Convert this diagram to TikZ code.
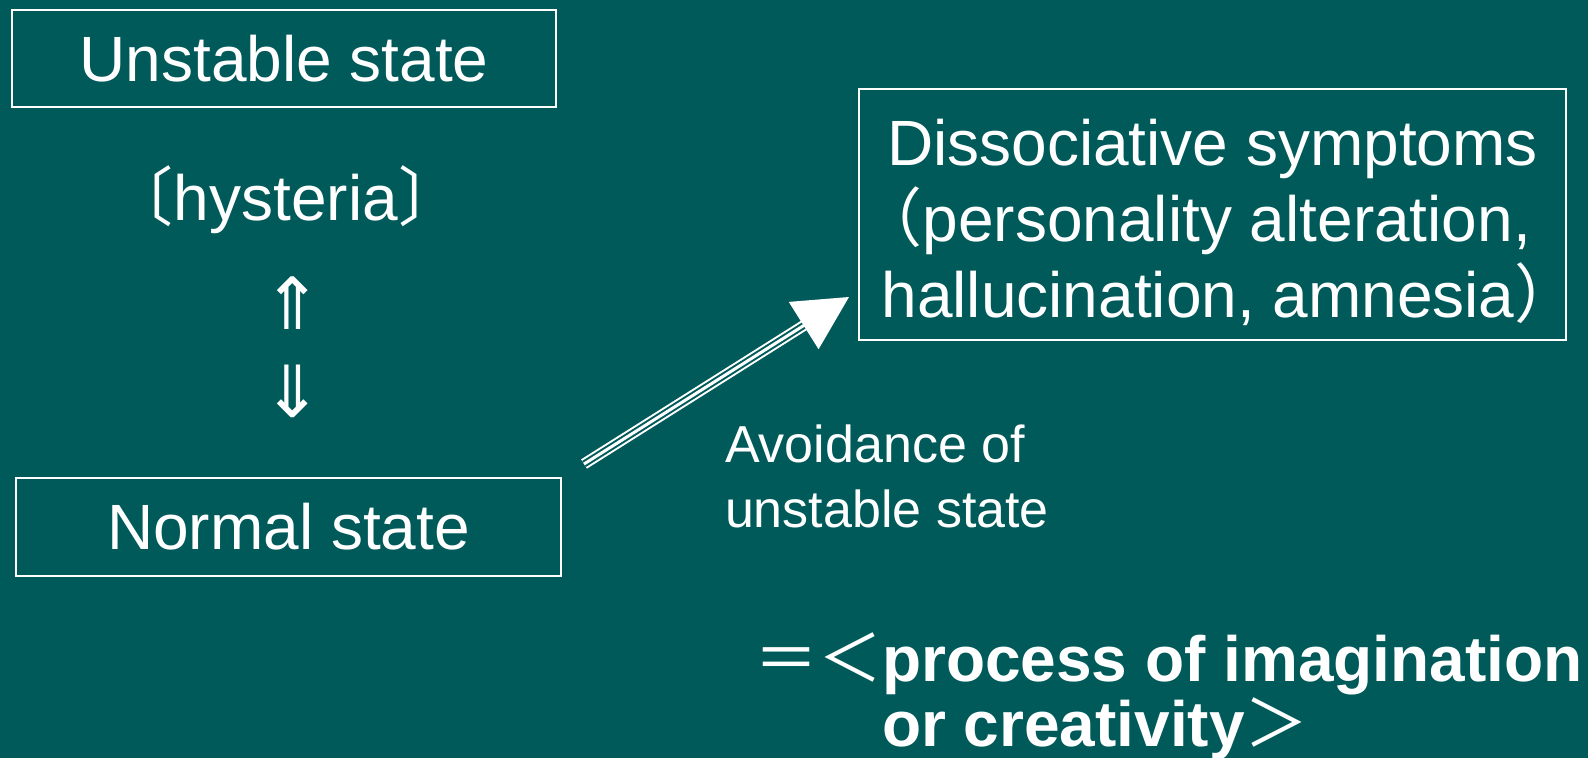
\documentclass[tikz,border=0pt]{standalone}
\usepackage{fontspec}
\setmainfont{Liberation Sans}
\newfontfamily\cjkfont{Noto Sans CJK JP}
\newfontfamily\arrowfont{DejaVu Sans}
\usetikzlibrary{arrows.meta,positioning}
\definecolor{slide}{RGB}{0,90,90}
% narrow full-width parentheses
\newcommand{\lparen}{\makebox[0.45em][r]{\cjkfont （}}
\newcommand{\rparen}{\makebox[0.45em][l]{\cjkfont ）}}

\begin{document}
\begin{tikzpicture}[x=0.5pt, y=-0.5pt,
      every node/.append style={text=white,font=\fontsize{32}{38}\selectfont},
      state/.style={draw=white,line width=1pt,inner sep=0pt,minimum height=48.5pt}]
    \tikzstyle{note} = [font=\fontsize{26}{32.5}\selectfont,align=left]
    \tikzstyle{updown} = [font=\arrowfont\fontsize{36}{40}\selectfont]
    \useasboundingbox (0,0) rectangle (1588,758);
    \fill[slide] (0,0) rectangle (1588,758);
    \node (unstable) [state,minimum width=272pt] at (284,58.5) {Unstable state};
    \node (hysteria) at (286,200) {{\cjkfont 〔}hysteria{\cjkfont 〕}};
    \node (up) [updown] at (293,303) {⇑};
    \node (down) [updown] at (293,391) {⇓};
    \node (normal) [state,minimum width=272.5pt,minimum height=49pt] at (288.5,527) {Normal state};
    \node (dissociative) [state,align=center,minimum width=353.5pt,minimum height=125.5pt] at (1212.5,214.5)
      {\rule{0pt}{31.5pt}Dissociative symptoms\\\lparen personality alteration,\\hallucination, amnesia\rparen};
    \node (avoidance) [note,anchor=base west] at (718,527) {Avoidance of\\unstable state};
    \node (process) [anchor=base west,align=left,font=\bfseries\fontsize{32}{30}\selectfont] at (747,746)
      {{\cjkfont\mdseries ＝＜}process of imagination\\{\cjkfont\mdseries\phantom{＝＜}}or creativity{\cjkfont\mdseries ＞}};
    % the hollow arrow
    \coordinate (avoidstart) at (584,464);
    \coordinate (avoidtip) at (849,297);
    \draw[white,line width=1pt,double=slide,double distance=3.5pt,shorten >=26pt] (avoidstart) -- (avoidtip);
    \draw[white,line width=1.5pt,-{Triangle[length=26.8pt,width=27.6pt]}] (avoidstart) -- (avoidtip);
\end{tikzpicture}
\end{document}
